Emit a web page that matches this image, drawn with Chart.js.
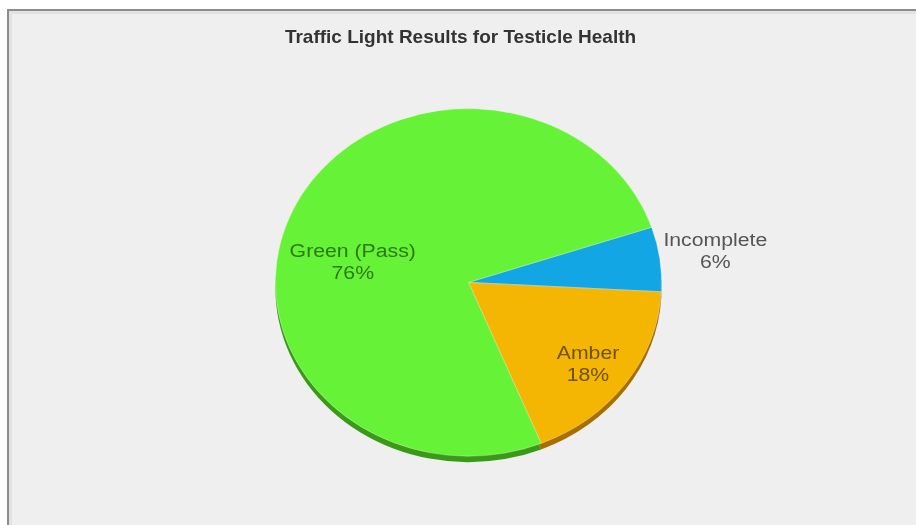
<!DOCTYPE html>
<html>
<head>
<meta charset="utf-8">
<script src="https://cdn.jsdelivr.net/npm/chart.js@4/dist/chart.umd.min.js"></script>
<style>
    html, body { margin: 0; padding: 0; background: #ffffff; }
    #frame {
        position: absolute; left: 7px; top: 9px; width: 909px; height: 516px;
        background: #efefef;
        border-top: 2px solid #8c8c8c; border-left: 2px solid #8c8c8c;
        box-shadow: inset 3px 3px 0 #e2e2e2;
        box-sizing: border-box;
    }
    #wrap { position: absolute; left: 0; top: 0; width: 916px; height: 525px; }
</style>
</head>
<body>
<div id="frame"></div>
<div id="wrap"><canvas id="pie" width="916" height="525"></canvas></div>
<script>
// data
const categories = ['Incomplete', 'Amber', 'Green (Pass)'];
const percentages = [6, 18, 76];
const sliceColors = ['#12a6e4', '#f4b602', '#66f236'];
const shadowColors = ['#0a6f99', '#a66f00', '#3a9a18'];
const labelColors = ['#555555', '#6e5200', '#2c7a12'];

// label placement: radius factor and angle nudge (deg) per slice
const labelRadius = [1.29, 0.78, 0.61];
const labelNudge = [0, 2, -14];

const squash = 0.90;   // pie is drawn slightly flattened
const shadowDrop = 6;
const pieShift = 8;    // pie sits a little right of the title

function ellipseTransform(ctx, x, y) {
    ctx.translate(x + pieShift, y);
    ctx.scale(1, squash);
    ctx.translate(-x, -y);
}

const flatPie = {
    id: 'flatPie',
    beforeDatasetsDraw(chart) {
        const ctx = chart.ctx;
        const meta = chart.getDatasetMeta(0);
        const arc0 = meta.data[0];
        // shadow under the pie
        meta.data.forEach((arc, i) => {
            ctx.save();
            ellipseTransform(ctx, arc.x, arc.y + shadowDrop);
            ctx.beginPath();
            ctx.moveTo(arc.x, arc.y + shadowDrop);
            ctx.arc(arc.x, arc.y + shadowDrop, arc.outerRadius, arc.startAngle, arc.endAngle);
            ctx.closePath();
            ctx.fillStyle = shadowColors[i];
            ctx.fill();
            ctx.restore();
        });
        ctx.save();
        ellipseTransform(ctx, arc0.x, arc0.y);
    },
    afterDatasetsDraw(chart) {
        const ctx = chart.ctx;
        ctx.restore();
        const meta = chart.getDatasetMeta(0);
        ctx.save();
        ctx.font = '18px "Liberation Sans", Arial, sans-serif';
        ctx.textAlign = 'center';
        ctx.textBaseline = 'middle';
        meta.data.forEach((arc, i) => {
            const mid = (arc.startAngle + arc.endAngle) / 2 + labelNudge[i] * Math.PI / 180;
            const r = arc.outerRadius * labelRadius[i];
            const x = arc.x + pieShift + Math.cos(mid) * r;
            const y = arc.y + Math.sin(mid) * r * squash;
            ctx.fillStyle = labelColors[i];
            [categories[i], percentages[i] + '%'].forEach((line, k) => {
                ctx.save();
                ctx.translate(x, y - 11 + k * 22);
                ctx.scale(1.18, 1);
                ctx.fillText(line, 0, 0);
                ctx.restore();
            });
        });
        ctx.restore();
    }
};

new Chart(document.getElementById('pie').getContext('2d'), {
    type: 'pie',
    data: {
        labels: categories,
        datasets: [{
            data: percentages,
            backgroundColor: sliceColors,
            borderColor: 'rgba(255,255,255,0.35)',
            borderWidth: 1
        }]
    },
    options: {
        responsive: false,
        animation: false,
        rotation: 71.5,
        layout: {
            padding: { left: 5, right: 0, top: 0, bottom: 49 }
        },
        plugins: {
            legend: { display: false },
            tooltip: { enabled: false },
            title: {
                display: true,
                text: 'Traffic Light Results for Testicle Health',
                color: '#333333',
                font: { family: '"Liberation Sans", Arial, sans-serif', size: 19, weight: 'bold' },
                padding: { top: 26, bottom: 40 }
            }
        }
    },
    plugins: [flatPie]
});
</script>
</body>
</html>
